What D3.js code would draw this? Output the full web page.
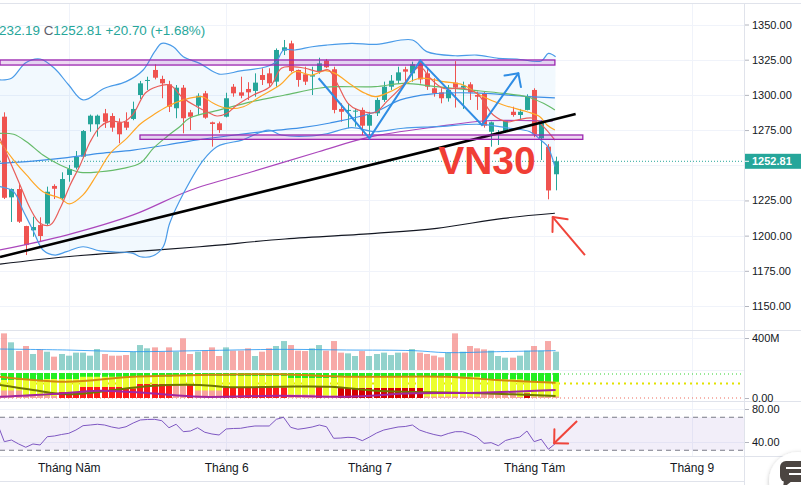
<!DOCTYPE html>
<html>
<head>
<meta charset="utf-8">
<script src="https://cdn.jsdelivr.net/npm/d3@7"></script>
<style>
body { margin: 0; background: #fff; overflow: hidden; }
svg { display: block; font-family: "Liberation Sans", Arial, sans-serif; }
</style>
</head>
<body>
<div class="chart"></div>
<script>
var W = 801, H = 485, plotW = 745;

// ---- data ----
var monthTicks = [9, 31, 51, 74, 96];
var monthLabels = ["Tháng Năm", "Tháng 6", "Tháng 7", "Tháng Tám", "Tháng 9"];
var priceTicks = [1150, 1175, 1200, 1225, 1275, 1300, 1325, 1350];
var priceGrid = [1150, 1175, 1200, 1225, 1250, 1275, 1300, 1325, 1350];
var lastPrice = 1252.81;

var open = [1284.5,1227.2,1233.1,1206.8,1203.8,1207.5,1208.5,1235.3,1226.5,1243.1,
  1248.3,1256.1,1279.1,1279.1,1286.9,1285,1280.5,1280.9,1282.9,1299.9,
  1309.9,1317.7,1311.3,1307.5,1290.5,1305.1,1287.6,1292.3,1301.1,1280.5,
  1279.8,1284.5,1305.8,1301.8,1304.2,1302.8,1314.1,1315.3,1309.4,1331.4,
  1336.6,1317.7,1314.6,1313,1316.5,1324.3,1318.2,1290,1288.6,1288.3,
  1289.3,1278.1,1286.9,1296.4,1305.8,1310.1,1318.2,1315.3,1323.6,1315.3,
  1304.7,1301.8,1297.6,1308.7,1305.1,1307.5,1299.9,1301.1,1273.8,1272,
  1273.8,1288,1285.7,1289.3,1303.5,1269.1,1263.2,1243.6];
var high = [1287.6,1233.5,1236.5,1207,1213.4,1213,1234.8,1236.5,1245,1250.2,
  1260.1,1275,1286,1286,1290,1287,1283.3,1287.6,1295.2,1309.9,
  1312.9,1321.7,1313.6,1310,1307,1307,1289.3,1301.1,1302.8,1281,
  1281,1301.5,1307.7,1312.9,1309,1315.3,1318.9,1318.9,1333,1339,
  1338.5,1318,1320,1320,1326.4,1325.5,1320,1294,1294,1290,
  1291,1288,1298,1309.4,1314.1,1320,1320,1323.6,1324.8,1318.9,
  1311.8,1304.7,1307,1324,1309.4,1309,1302.3,1302,1281,1275,
  1282,1291.6,1290,1300.4,1304.7,1282,1265,1256.1];
var low = [1226,1209.7,1209,1186.2,1199.2,1196,1207,1226,1225,1238.3,
  1247,1255,1273.8,1270.3,1276.5,1273.8,1265.6,1275,1282,1297.1,
  1303.5,1311,1297.6,1287.8,1283.4,1272.7,1275,1285.7,1283,1263.2,
  1273,1284,1298.7,1297.6,1296.4,1298.7,1307,1305.8,1305.8,1328.3,
  1316,1305.8,1307,1299.9,1315,1319,1286.9,1280.9,1276.3,1277.4,
  1271.5,1271.5,1285,1295,1303.5,1307.7,1309.4,1309.4,1308,1303.5,
  1298.7,1294,1295.2,1291,1290,1296.4,1289.3,1276.7,1263.2,1264.4,
  1273,1284.5,1282.9,1289,1270,1253.7,1225.8,1232.19];
var close = [1226.9,1233.1,1209.9,1193.3,1206.1,1199.7,1231.2,1233.3,1240.2,1247.3,
  1255.9,1274.3,1285.2,1285.2,1280.9,1276.7,1272,1276.7,1290,1308.2,
  1310.6,1312.2,1308.2,1291.6,1305.1,1283.4,1284.5,1299.4,1283.8,1279.3,
  1275,1297.6,1301.1,1299.4,1301.8,1308.7,1310.6,1308.2,1331.9,1333.8,
  1317,1310.6,1309.4,1314,1322.4,1319.6,1289.3,1288,1289.3,1288.8,
  1278.1,1285.7,1296.4,1305.8,1310.1,1316,1316.5,1321.7,1311,1305.8,
  1301.1,1297.6,1303.5,1305.1,1306.5,1301.8,1298.7,1278.1,1280.5,1273.4,
  1281.6,1285.7,1288,1299.2,1272,1281.4,1232.11,1252.81];

// volume, millions
var volume = [458,346,237,300,200,258,229,167,200,179,
  217,217,179,262,200,179,179,187,229,312,
  271,283,229,283,229,396,200,229,242,283,
  175,283,242,242,271,175,229,271,300,362,
  312,242,237,271,312,242,362,217,208,175,
  237,175,200,217,187,217,217,262,217,200,
  179,158,217,458,229,300,271,258,242,175,
  154,154,179,242,300,242,362,229];
var volumeMA = [[-0.6,262],[8.7,250],[18,229],[27.3,242],[38.5,258],[47.8,250],[57.1,242],[61.8,217],[68.8,229],[77,242]];

// price overlays as [bar index, price]
var bbUpper = [[-0.6,1310.6],[1,1311.8],[3,1322.9],[5,1325.5],[7,1318.9],[9,1307],[11,1296.4],[14,1304.7],[17,1309.4],[19.4,1317.7],
  [21,1330.7],[22,1336.6],[23.6,1334.2],[25,1327.1],[27.3,1322.4],[30,1314.8],[33,1317],[36.6,1320],[38,1323.6],[39,1331.9],
  [40.6,1331.9],[43,1334.2],[45,1335.4],[48.5,1336.6],[52,1335.9],[57,1339],[59,1330.7],[63,1327.8],[66,1328.3],[69,1326],
  [71.6,1325.5],[75,1324.1],[76,1329.5],[77,1327.1]];
var bbLower = [[-0.6,1234.8],[1.3,1231.2],[2.7,1217],[4.1,1202.8],[5.4,1189.8],[7.1,1186.2],[8.7,1188.6],[11,1192.1],[13.4,1189.1],[18,1187.4],
  [19,1185],[20.8,1185.7],[22.2,1192.1],[23.1,1208.8],[25.2,1231.7],[27.8,1253.7],[29.7,1263.2],[31.1,1265.6],[33.2,1267.9],[36.9,1275],
  [38.7,1271.5],[42.9,1270.8],[45.3,1272.7],[48.5,1276.7],[51.8,1273.8],[55.7,1276.3],[60.4,1277.4],[66.4,1279.1],[70.6,1276.3],[73.4,1273.8],
  [75.2,1266.7],[75.9,1263.2],[76.9,1249]];
var bbBasis = [[-0.6,1272.7],[1.3,1272],[3.1,1266.7],[5.4,1257.3],[7.8,1250.2],[10.6,1245],[13.4,1245.4],[16.6,1247.8],[19,1251.6],[20.8,1262],
  [22.7,1270.3],[24.5,1277.4],[25.9,1283.6],[30.1,1289.3],[34.6,1295.2],[39.2,1299.9],[43.9,1304.7],[46.2,1305.8],[51.8,1305.8],[55.7,1308.2],
  [60.4,1305.8],[65,1303.5],[69.7,1301.1],[73,1298.7],[75.3,1294],[76.9,1289.3]];
var ma5 = [[-0.6,1269.1],[0.8,1252.5],[2.2,1236],[3.6,1219.4],[5,1208.8],[6.4,1207.5],[7.8,1219.4],[9.2,1236],[10.6,1250.2],[12,1266.7],
  [13.4,1277.4],[14.8,1281.4],[16.6,1280.7],[18,1286.4],[19.7,1301.3],[21.3,1305.8],[23.1,1307],[25,1297.6],[26.9,1291.6],[28.3,1288],
  [29.7,1285],[31.1,1286.9],[32.5,1292.8],[34.8,1299.9],[37.1,1305.8],[38.7,1318.9],[40.1,1320],[42,1318.9],[43.9,1316.5],[45.3,1317.7],
  [46.6,1307],[48,1294],[49.4,1289.3],[51.8,1287.5],[53.4,1295.2],[55.7,1307],[57.1,1316.5],[58.1,1320],[59.5,1311.8],[61.3,1304.7],
  [64.1,1304.7],[66,1301.1],[68.3,1285.7],[70.2,1280.9],[71.6,1282.1],[73.9,1283.4],[75.3,1277.4],[76.9,1267.9]];
var ma10 = [[-0.6,1266.7],[1.3,1253.7],[3.1,1243.1],[5.4,1231.2],[7.8,1226.5],[9.1,1222.5],[11,1228.9],[12.9,1243.1],[14.8,1258.5],[17.1,1269.1],
  [19,1279.3],[20.8,1285.7],[22.7,1291.6],[25,1296.4],[27.6,1298.7],[29.2,1294],[31.1,1290.5],[33.4,1291.6],[35.7,1298.7],[38.5,1307],
  [40.6,1316.5],[42.9,1314.1],[44.8,1317.2],[46.2,1315.3],[48.5,1307],[50.4,1301.1],[51.8,1298.7],[53.9,1302.3],[55.7,1307],[58.1,1311.8],
  [61.3,1309.4],[64.1,1307],[66.4,1299.9],[69.7,1292.8],[73,1288],[74.8,1284.5],[75.8,1278.6],[76.9,1275]];
var ma50 = [[-0.6,1251.4],[4,1253],[8.8,1255.4],[13.4,1258.5],[18,1260.8],[22.7,1264.4],[25.9,1267.2],[32.2,1271.5],[36.8,1274.3],[41.3,1276.5],
  [45.5,1280],[51.8,1287.8],[55.3,1296.4],[59.5,1300.6],[66.4,1301.3],[72,1299.2],[76.9,1297.8]];
var ma100 = [[-0.6,1189.8],[8.7,1200.4],[18,1214.7],[25.9,1232.1],[34.6,1245.4],[43.9,1259.6],[51.1,1270.1],[60.4,1277.4],[67.4,1281.6],[73.4,1281.7],[76.6,1281.4]];
var ma200 = [[-0.6,1179.8],[8.7,1185],[18,1188.6],[27.3,1192.1],[39.2,1197.6],[51.8,1201.6],[60.4,1205.2],[69.7,1212.3],[76.9,1215.9]];

// drawings
var trendLine = [[-0.6,1184.8],[79.8,1286.4]];
var zoneTop = {i0: -0.6, i1: 76.9, p0: 1321.2, p1: 1324.8};
var zoneLow = {i0: 18.95, i1: 80.8, p0: 1268.4, p1: 1271.5};
var zigzag = [[43.9,1311.8],[51,1269.1],[58.1,1324.3],[66.7,1278.6],[71.8,1315.3]];
var arrowPrice = [[81.1,1186.2],[76.6,1213.2]];
var arrowRsi = [[80,65.5],[76.8,38.4]];
var labelPos = [60.6, 1243.8];

// colour-band oscillator under the volume: green cap lower edge, red/salmon base top, base kind
var bandGreen = [72,72,72,72,72,72,76,76,76,76,76,85,85,85,85,85,85,85,85,85,
  85,85,85,85,88,88,88,88,88,88,88,88,88,88,88,88,88,88,88,88,
  80,80,80,80,80,80,80,88,88,88,88,88,88,88,88,88,88,88,88,85,
  85,85,85,85,85,85,85,75,75,75,75,75,75,65,65,65,65,65];
var bandRed = [30,30,30,8,8,8,8,8,24,24,24,44,44,44,44,44,44,38,38,56,
  56,56,56,56,50,50,52,30,30,30,30,42,42,42,42,42,42,42,42,42,
  14,14,14,14,48,10,10,40,40,40,40,40,40,40,40,40,40,40,40,6,
  6,6,6,6,6,6,6,22,22,22,22,22,4,18,6,6,6,6];
var bandKind = [3,3,3,3,3,3,3,3,1,1,1,1,1,1,1,1,1,1,1,1,
  1,1,1,1,3,3,1,3,3,3,3,1,1,1,1,1,1,1,1,1,
  3,3,3,3,1,3,3,2,2,2,2,2,2,2,2,2,2,2,2,3,
  3,3,3,3,3,3,3,3,3,3,3,3,3,2,3,3,3,3];
var oscOrange = [[-0.6,85],[8.7,65],[18,85],[27.3,92],[38.5,95],[47.8,85],[61.8,85],[68.8,72],[77,61]];
var oscOlive = [[-0.6,52],[4,32],[8.7,15],[13.4,25],[20.3,48],[27.3,52],[32,43],[38.5,45],[45.5,45],[52.5,28],[59.5,23],[66.4,19],[77,8]];
var oscPurple = [[-0.6,5],[6.4,15],[13.4,29],[20.3,19],[27.3,5],[38.5,9],[47.8,5],[57.1,19],[66.4,21],[77,32]];
var bandLevels = [{v: 96, c: "#2fd12f"}, {v: 58, c: "#e2e200"}, {v: 0, c: "#ef6b5a"}];

// RSI, first value belongs to bar -1
var rsi = [63,40.4,42.4,37.6,33.6,37.6,36.4,46.4,47.3,49.1,50.5,
  54.5,59.8,60.6,61.5,60.6,58.2,56.6,58.5,63,66.7,
  67.3,67.5,65.8,57.3,61.5,52.5,53.3,57.3,51.8,49.7,
  48.5,55.8,56.4,56.6,58.2,59.4,59.4,59.4,67.5,70,
  57.8,55.4,56.6,58.2,60.6,58.5,44.5,44.8,45.7,45.2,
  41.6,46,50.9,54.5,56.4,58.2,58.8,60.6,54.5,51.5,
  49.1,47.3,50.3,52.5,52.5,49.7,46,38.4,39.2,35.5,
  41.8,44.2,46,53.3,40.4,43.3,31.2,38.4];

// ---- scales ----
var x = d3.scaleLinear().domain([0, 77]).range([4.3, 555.6]);
var y = d3.scaleLinear().domain([1150, 1350]).range([306, 24.5]);
var yVol = d3.scaleLinear().domain([0, 400]).range([370, 338]);
var yInd = d3.scaleLinear().domain([0, 100]).range([398, 373]);
var yRsi = d3.scaleLinear().domain([40, 80]).range([442, 409]);

var up = "#26a69a", down = "#ef5350", grid = "#f0f3fa", border = "#e0e3eb", txt = "#131722";

var svg = d3.select(".chart").append("svg").attr("width", W).attr("height", H);
svg.append("rect").attr("width", W).attr("height", H).attr("fill", "#fff");

var defs = svg.append("defs");
defs.append("clipPath").attr("id", "clipPrice").append("rect").attr("width", plotW).attr("height", 330);
defs.append("clipPath").attr("id", "clipLow").append("rect").attr("y", 331).attr("width", plotW).attr("height", 125);
var shadow = defs.append("filter").attr("id", "shadow").attr("x", "-30%").attr("y", "-30%").attr("width", "160%").attr("height", "160%");
shadow.append("feDropShadow").attr("dx", 0).attr("dy", 1).attr("stdDeviation", 2).attr("flood-opacity", 0.25);

// grid
var gGrid = svg.append("g");
gGrid.selectAll(".vg").data(monthTicks.filter(function(d) { return x(d) < plotW; })).enter().append("line")
  .attr("x1", function(d) { return Math.round(x(d)) + 0.5; }).attr("x2", function(d) { return Math.round(x(d)) + 0.5; })
  .attr("y1", 4).attr("y2", 456).attr("stroke", grid);
gGrid.selectAll(".hg").data(priceGrid).enter().append("line")
  .attr("x1", 0).attr("x2", plotW)
  .attr("y1", function(d) { return Math.round(y(d)) + 0.5; }).attr("y2", function(d) { return Math.round(y(d)) + 0.5; })
  .attr("stroke", grid);
[yVol(400), yVol(0), yRsi(80), yRsi(40)].forEach(function(v) {
  gGrid.append("line").attr("x1", 0).attr("x2", plotW).attr("y1", Math.round(v) + 0.5).attr("y2", Math.round(v) + 0.5).attr("stroke", grid);
});

// ---- price pane ----
var pane = svg.append("g").attr("clip-path", "url(#clipPrice)");
var line = d3.line().x(function(d) { return x(d[0]); }).y(function(d) { return y(d[1]); }).curve(d3.curveCatmullRom);
var straight = d3.line().x(function(d) { return x(d[0]); }).y(function(d) { return y(d[1]); });

var fillPath = line(bbUpper) + "L" + line(bbLower.slice().reverse()).slice(1) + "Z";
pane.append("path").attr("d", fillPath).attr("fill", "rgba(33,150,243,0.06)");

// last price dotted line
pane.append("line").attr("x1", 0).attr("x2", plotW).attr("y1", y(lastPrice)).attr("y2", y(lastPrice))
  .attr("stroke", up).attr("stroke-dasharray", "1,2");

// candles
var candles = pane.selectAll(".candle").data(d3.range(open.length)).enter().append("g");
candles.append("line")
  .attr("x1", function(i) { return Math.round(x(i)) + 0.5; }).attr("x2", function(i) { return Math.round(x(i)) + 0.5; })
  .attr("y1", function(i) { return y(high[i]); }).attr("y2", function(i) { return y(low[i]); })
  .attr("stroke", function(i) { return close[i] >= open[i] ? up : down; });
candles.append("rect")
  .attr("x", function(i) { return Math.round(x(i)) - 2; }).attr("width", 5)
  .attr("y", function(i) { return y(Math.max(open[i], close[i])); })
  .attr("height", function(i) { return Math.max(1, Math.abs(y(open[i]) - y(close[i]))); })
  .attr("fill", function(i) { return close[i] >= open[i] ? up : down; });

// moving averages and bands
function drawLine(data, color, w, fn) {
  pane.append("path").attr("d", (fn || line)(data)).attr("fill", "none").attr("stroke", color).attr("stroke-width", w);
}
drawLine(ma200, "#131722", 1.2);
drawLine(ma100, "#ab47bc", 1.2);
drawLine(ma50, "#3d8fe6", 1.2);
drawLine(bbUpper, "#4a9be8", 1.2);
drawLine(bbLower, "#4a9be8", 1.2);
drawLine(bbBasis, "#66bb6a", 1.2);
drawLine(ma10, "#ffa726", 1.2);
drawLine(ma5, "#e95e5a", 1.2);

// drawings
drawLine(trendLine, "#000", 2.6, straight);
[zoneTop, zoneLow].forEach(function(z) {
  pane.append("rect").attr("x", x(z.i0)).attr("width", x(z.i1) - x(z.i0))
    .attr("y", y(z.p1)).attr("height", y(z.p0) - y(z.p1))
    .attr("fill", "rgba(156,39,176,0.18)").attr("stroke", "#9c27b0").attr("stroke-width", 1.3);
});

function arrowHead(g, tip, from, len, spread, color, w) {
  var a = Math.atan2(from[1] - tip[1], from[0] - tip[0]);
  [-spread, spread].forEach(function(s) {
    g.append("line").attr("x1", tip[0]).attr("y1", tip[1])
      .attr("x2", tip[0] + len * Math.cos(a + s)).attr("y2", tip[1] + len * Math.sin(a + s))
      .attr("stroke", color).attr("stroke-width", w).attr("stroke-linecap", "round");
  });
}
drawLine(zigzag, "#2f8de4", 2, straight);
var zTip = [x(zigzag[4][0]), y(zigzag[4][1])], zFrom = [x(zigzag[3][0]), y(zigzag[3][1])];
arrowHead(pane, zTip, zFrom, 14, 0.8, "#2f8de4", 2);

pane.append("text").attr("x", x(labelPos[0])).attr("y", y(labelPos[1]))
  .attr("fill", "#f03e35").attr("font-size", 39).attr("font-weight", "bold").text("VN30");

svg.append("path").attr("d", straight(arrowPrice)).attr("stroke", "#f0443a").attr("stroke-width", 2).attr("fill", "none");
arrowHead(svg, [x(arrowPrice[1][0]), y(arrowPrice[1][1])], [x(arrowPrice[0][0]), y(arrowPrice[0][1])], 15, 0.72, "#f0443a", 2);

// ---- volume + band oscillator pane ----
var low2 = svg.append("g").attr("clip-path", "url(#clipLow)");
low2.selectAll(".vol").data(volume).enter().append("rect")
  .attr("x", function(d, i) { return Math.round(x(i)) - 3; }).attr("width", 6)
  .attr("y", function(d) { return yVol(d); }).attr("height", function(d) { return yVol(0) - yVol(d); })
  .attr("fill", function(d, i) { return close[i] >= open[i] ? "rgba(38,166,154,0.5)" : "rgba(239,83,80,0.5)"; });
low2.append("path").attr("d", d3.line().x(function(d) { return x(d[0]); }).y(function(d) { return yVol(d[1]); }).curve(d3.curveCatmullRom)(volumeMA))
  .attr("fill", "none").attr("stroke", "#2196f3").attr("stroke-width", 1).attr("opacity", 0.8);

bandLevels.forEach(function(l) {
  low2.append("line").attr("x1", 0).attr("x2", plotW).attr("y1", yInd(l.v)).attr("y2", yInd(l.v))
    .attr("stroke", l.c).attr("stroke-width", l.v === 58 ? 2 : 1).attr("stroke-dasharray", l.v === 58 ? "2,4" : "1,3");
});
var kindColor = {1: "#ff1a1a", 2: "#d40000", 3: "#f7a39c"};
var cols = low2.selectAll(".band").data(d3.range(bandGreen.length)).enter().append("g");
cols.append("rect").attr("x", function(i) { return Math.round(x(i)) - 3; }).attr("width", 6)
  .attr("y", yInd(100)).attr("height", yInd(0) - yInd(100)).attr("fill", "#ecff2e");
cols.append("rect").attr("x", function(i) { return Math.round(x(i)) - 3; }).attr("width", 6)
  .attr("y", yInd(100)).attr("height", function(i) { return yInd(bandGreen[i]) - yInd(100); }).attr("fill", "#22ee22");
cols.append("rect").attr("x", function(i) { return Math.round(x(i)) - 3; }).attr("width", 6)
  .attr("y", function(i) { return yInd(bandRed[i]); }).attr("height", function(i) { return yInd(0) - yInd(bandRed[i]); })
  .attr("fill", function(i) { return kindColor[bandKind[i]]; });
var oscLine = d3.line().x(function(d) { return x(d[0]); }).y(function(d) { return yInd(d[1]); }).curve(d3.curveCatmullRom);
[[oscOrange, "#d48a0c"], [oscOlive, "#6f7700"], [oscPurple, "#a2259f"]].forEach(function(s) {
  low2.append("path").attr("d", oscLine(s[0])).attr("fill", "none").attr("stroke", s[1]).attr("stroke-width", 2);
});

// ---- RSI pane ----
low2.append("rect").attr("x", 0).attr("width", plotW).attr("y", yRsi(70)).attr("height", yRsi(30) - yRsi(70))
  .attr("fill", "rgba(126,87,194,0.1)");
[70, 30].forEach(function(v) {
  low2.append("line").attr("x1", 0).attr("x2", plotW).attr("y1", yRsi(v)).attr("y2", yRsi(v))
    .attr("stroke", "#787b86").attr("stroke-dasharray", "5,4");
});
low2.append("path").attr("d", d3.line().x(function(d, i) { return x(i - 1); }).y(function(d) { return yRsi(d); })(rsi))
  .attr("fill", "none").attr("stroke", "#7e57c2").attr("stroke-width", 1);
svg.append("path").attr("d", d3.line().x(function(d) { return x(d[0]); }).y(function(d) { return yRsi(d[1]); })(arrowRsi))
  .attr("stroke", "#f0443a").attr("stroke-width", 2).attr("fill", "none");
arrowHead(svg, [x(arrowRsi[1][0]), yRsi(arrowRsi[1][1])], [x(arrowRsi[0][0]), yRsi(arrowRsi[0][1])], 14, 0.78, "#f0443a", 2);

// ---- separators ----
[3.5, 330.5, 401.5, 456.5].forEach(function(v) {
  svg.append("line").attr("x1", 0).attr("x2", W).attr("y1", v).attr("y2", v).attr("stroke", border);
});
svg.append("line").attr("x1", 0).attr("x2", plotW).attr("y1", 481.5).attr("y2", 481.5).attr("stroke", border);
svg.append("line").attr("x1", plotW - 0.5).attr("x2", plotW - 0.5).attr("y1", 4).attr("y2", H).attr("stroke", border);

// ---- axes ----
function styleAxis(g) {
  g.attr("font-family", null).attr("font-size", null);
  g.select(".domain").remove();
  g.selectAll("line").attr("stroke", "#b2b5be");
  g.selectAll("text").attr("fill", txt).style("font-size", "11px");
}
svg.append("g").attr("transform", "translate(" + plotW + ",0)")
  .call(d3.axisRight(y).tickValues(priceTicks).tickFormat(d3.format(".2f")).tickSize(4).tickPadding(3)).call(styleAxis);
svg.append("g").attr("transform", "translate(" + plotW + ",0)")
  .call(d3.axisRight(yVol).tickValues([400]).tickFormat(function(d) { return d + "M"; }).tickSize(4).tickPadding(3)).call(styleAxis);
svg.append("g").attr("transform", "translate(" + plotW + ",0)")
  .call(d3.axisRight(yInd).tickValues([0]).tickFormat(d3.format(".2f")).tickSize(4).tickPadding(3)).call(styleAxis);
svg.append("g").attr("transform", "translate(" + plotW + ",0)")
  .call(d3.axisRight(yRsi).tickValues([40, 80]).tickFormat(d3.format(".2f")).tickSize(4).tickPadding(3)).call(styleAxis);

var gx = svg.append("g").attr("transform", "translate(0,456)")
  .call(d3.axisBottom(x).tickValues(monthTicks).tickFormat(function(d, i) { return monthLabels[i]; }).tickSize(0).tickPadding(7));
styleAxis(gx);
gx.selectAll("text").style("font-size", "12px");

// last price label
var lp = svg.append("g");
lp.append("rect").attr("x", plotW).attr("y", y(lastPrice) - 7.5).attr("width", W - plotW).attr("height", 15).attr("fill", up);
lp.append("line").attr("x1", plotW).attr("x2", plotW + 4).attr("y1", y(lastPrice)).attr("y2", y(lastPrice)).attr("stroke", "#fff");
lp.append("text").attr("x", plotW + 7).attr("y", y(lastPrice)).attr("dy", "0.35em")
  .attr("fill", "#fff").attr("font-size", 11).attr("font-weight", "bold").text(d3.format(".2f")(lastPrice));

// legend values
var legend = svg.append("text").attr("x", -1).attr("y", 34.5).attr("font-size", 13.4).attr("fill", up);
legend.append("tspan").text("232.19 ");
legend.append("tspan").attr("fill", "#5d606b").text("C");
legend.append("tspan").text(d3.format(".2f")(lastPrice) + " +20.70 (+1.68%)");

// chat bubble button
var chat = svg.append("g");
chat.append("circle").attr("cx", 798).attr("cy", 481).attr("r", 29).attr("fill", "#fff").attr("filter", "url(#shadow)");
chat.append("rect").attr("x", 780).attr("y", 461).attr("width", 30).attr("height", 21).attr("rx", 6).attr("fill", "#4b4541");
chat.append("path").attr("d", "M784,480 L783,488 L792,481 Z").attr("fill", "#4b4541");
chat.append("line").attr("x1", 786).attr("x2", 801).attr("y1", 468).attr("y2", 468).attr("stroke", "#fff").attr("stroke-width", 2);
chat.append("line").attr("x1", 789).attr("x2", 801).attr("y1", 474).attr("y2", 474).attr("stroke", "#fff").attr("stroke-width", 2);
</script>
</body>
</html>
